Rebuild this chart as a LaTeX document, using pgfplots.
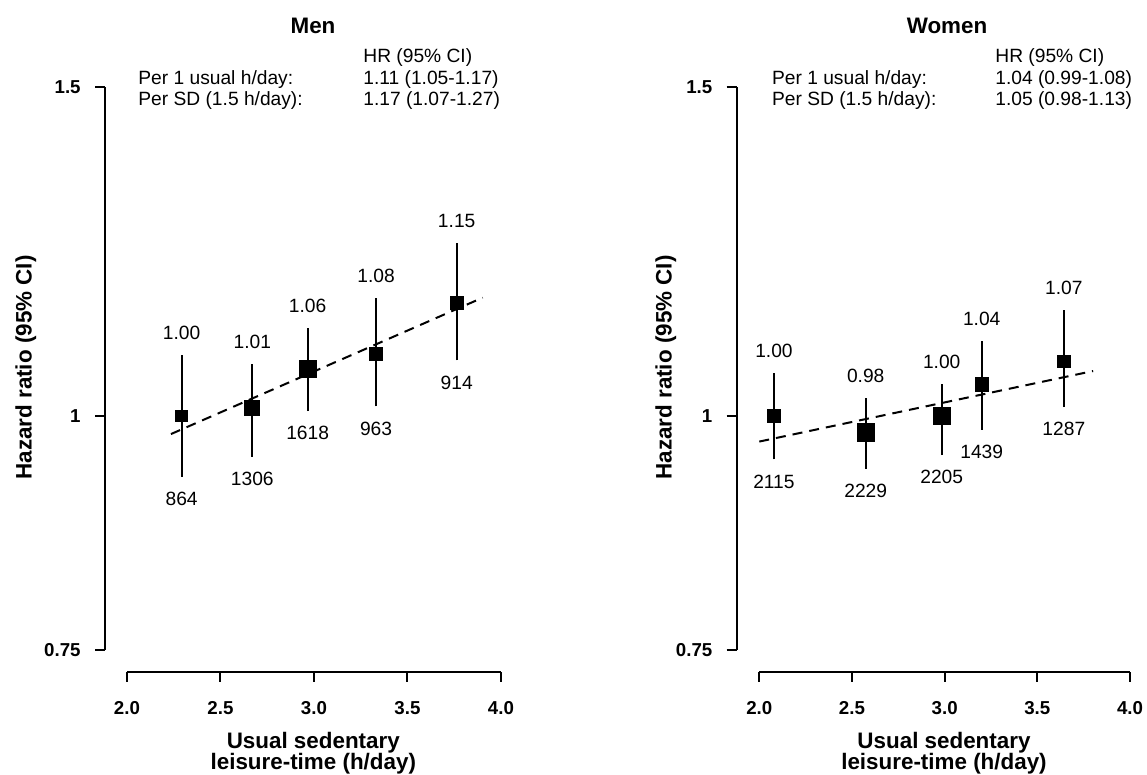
\documentclass[border=0pt]{standalone}
\usepackage{fontspec}
\setmainfont{Liberation Sans}
\usepackage{pgfplots}
\usepackage{pgfplotstable}
\pgfplotsset{compat=1.18}

\newcommand{\txtf}{\fontsize{9.6bp}{11bp}\selectfont}
\newcommand{\tickf}{\fontsize{9.35bp}{11bp}\selectfont\bfseries}
\newcommand{\labf}{\fontsize{11.2bp}{11bp}\selectfont\bfseries}

% x: mean usual sedentary leisure-time of the group (h/day)
% hr, lo, hi: hazard ratio with its 95% CI; n: number of cases
% sz: half side of the square marker (bp), by the weight of the estimate
\pgfplotstableread{
x     hr    lo     hi     n     sz
2.292 1.00  0.928  1.078  864   2.9
2.670 1.01  0.951  1.066  1306  3.75
2.966 1.06  1.006  1.114  1618  4.3
3.332 1.08  1.012  1.156  963   3.3
3.763 1.15  1.071  1.238  914   3.3
}\men
\pgfplotstableread{
x     hr    lo     hi     n     sz
2.079 1.00  0.948  1.054  2115  3.4
2.574 0.98  0.937  1.022  2229  4.3
2.984 1.00  0.953  1.040  2205  4.3
3.200 1.04  0.983  1.097  1439  3.4
3.643 1.07  1.011  1.140  1287  3.1
}\women

\tikzset{ci/.style={black, line width=1bp}}

% confidence intervals, with the HR above and the case count below
\newcommand{\intervals}[1]{%
  \pgfplotstablegetrowsof{#1}%
  \pgfmathtruncatemacro{\lastrow}{\pgfplotsretval-1}%
  \pgfplotsforeachungrouped \rowi in {0,...,\lastrow}{%
    \pgfplotstablegetelem{\rowi}{x}\of{#1}\let\cx\pgfplotsretval
    \pgfplotstablegetelem{\rowi}{lo}\of{#1}\let\clo\pgfplotsretval
    \pgfplotstablegetelem{\rowi}{hi}\of{#1}\let\chv\pgfplotsretval
    \pgfplotstablegetelem{\rowi}{hr}\of{#1}\let\chr\pgfplotsretval
    \pgfplotstablegetelem{\rowi}{n}\of{#1}\let\cn\pgfplotsretval
    \edef\next{%
      \noexpand\addplot[ci, forget plot] coordinates {(\cx,\clo) (\cx,\chv)};
      \noexpand\node[anchor=south, inner sep=0pt, yshift=7.5bp, font=\noexpand\txtf] at (axis cs:\cx,\chv) {\chr};
      \noexpand\node[anchor=north, inner sep=0pt, yshift=-7.5bp, font=\noexpand\txtf] at (axis cs:\cx,\clo) {\cn};
    }\next
  }}

\newcommand{\squares}[1]{%
  \addplot[scatter, only marks, mark=square*,
    scatter/use mapped color={draw=none, fill=black},
    visualization depends on={\thisrow{sz} \as \msz},
    scatter/@pre marker code/.append style={/tikz/mark size=\msz}]
    table[x=x, y=hr, meta=hr] {#1};}

% R-style axis lines: they run from the first tick to the last
\newcommand{\raxes}{%
  \draw[line width=1bp] ({axis cs:2,1}|-{rel axis cs:0,0}) -- ({axis cs:4,1}|-{rel axis cs:0,0});
  \draw[line width=1bp] ({rel axis cs:0,0}|-{axis cs:2,0.75}) -- ({rel axis cs:0,0}|-{axis cs:2,1.5});}

\begin{document}
\begin{tikzpicture}
\useasboundingbox (0,0) rectangle (573.5bp,387.5bp);

\begin{axis}[
  at={(52.5bp,51.5bp)}, anchor=south west, scale only axis,
  width=208bp, height=303.75bp,
  xmin=1.8824, xmax=4.107,
  ymode=log, ymin=0.7295, ymax=1.5422,
  axis x line*=bottom, axis y line*=left, axis line style={draw=none},
  xtick={2,2.5,3,3.5,4}, xticklabels={2.0,2.5,3.0,3.5,4.0},
  ytick={0.75,1,1.5}, yticklabels={0.75,1,1.5},
  minor xtick={}, minor ytick={},
  tick align=outside, major tick length=5bp,
  every tick/.style={black, line width=1bp},
  tick label style={font=\tickf, inner sep=0pt},
  xticklabel style={anchor=base, yshift=-16.5bp},
  yticklabel style={anchor=east, xshift=-7bp},
  clip=false]
  \raxes
  \addplot[black, line width=1bp, dash pattern=on 5bp off 3.5bp] coordinates {(2.235,0.978) (3.902,1.157)};
  \intervals{\men}
  \squares{\men}
\end{axis}

\begin{axis}[
  at={(368.35bp,51.5bp)}, anchor=south west, scale only axis,
  width=207.65bp, height=303.75bp,
  xmin=1.8781, xmax=4.1187,
  ymode=log, ymin=0.7295, ymax=1.5422,
  axis x line*=bottom, axis y line*=left, axis line style={draw=none},
  xtick={2,2.5,3,3.5,4}, xticklabels={2.0,2.5,3.0,3.5,4.0},
  ytick={0.75,1,1.5}, yticklabels={0.75,1,1.5},
  minor xtick={}, minor ytick={},
  tick align=outside, major tick length=5bp,
  every tick/.style={black, line width=1bp},
  tick label style={font=\tickf, inner sep=0pt},
  xticklabel style={anchor=base, yshift=-16.5bp},
  yticklabel style={anchor=east, xshift=-7bp},
  clip=false]
  \raxes
  \addplot[black, line width=1bp, dash pattern=on 5bp off 3.5bp] coordinates {(2.000,0.969) (3.801,1.057)};
  \intervals{\women}
  \squares{\women}
\end{axis}

% titles
\node[font=\labf, anchor=base] at (156.5bp,370.85bp) {Men};
\node[font=\labf, anchor=base] at (473.5bp,370.85bp) {Women};

% x axis titles
\node[font=\labf, anchor=base] at (156.65bp,13.5bp) {Usual sedentary};
\node[font=\labf, anchor=base] at (156.65bp,2.7bp) {leisure-time (h/day)};
\node[font=\labf, anchor=base] at (472bp,13.5bp) {Usual sedentary};
\node[font=\labf, anchor=base] at (472bp,2.7bp) {leisure-time (h/day)};

% y axis titles
\node[font=\labf, anchor=base, rotate=90] at (15.85bp,203.75bp) {Hazard ratio (95\% CI)};
\node[font=\labf, anchor=base, rotate=90] at (335.85bp,203.75bp) {Hazard ratio (95\% CI)};

% trend estimates
\begin{scope}[every node/.style={font=\txtf, anchor=base west, inner sep=0pt}]
  \node at (181.5bp,356.35bp) {HR (95\% CI)};
  \node at (69bp,345bp) {Per 1 usual h/day:};
  \node at (181.5bp,345bp) {1.11 (1.05-1.17)};
  \node at (69bp,334.75bp) {Per SD (1.5 h/day):};
  \node at (181.5bp,334.75bp) {1.17 (1.07-1.27)};
  \node at (497.5bp,356.35bp) {HR (95\% CI)};
  \node at (385.85bp,345bp) {Per 1 usual h/day:};
  \node at (497.5bp,345bp) {1.04 (0.99-1.08)};
  \node at (385.85bp,334.75bp) {Per SD (1.5 h/day):};
  \node at (497.5bp,334.75bp) {1.05 (0.98-1.13)};
\end{scope}
\end{tikzpicture}
\end{document}
